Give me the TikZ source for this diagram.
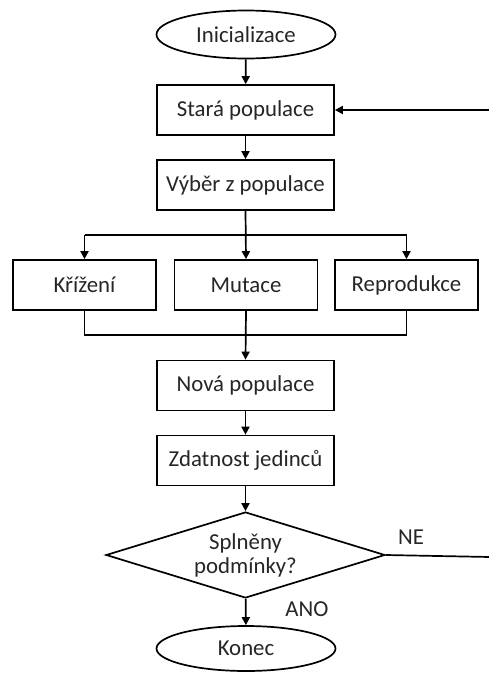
\documentclass[tikz,border=0pt]{standalone}
\usepackage{fontspec}
\setmainfont{Carlito}
\usetikzlibrary{shapes.geometric,arrows.meta}
\begin{document}
\begin{tikzpicture}[x=1pt,y=-1pt,
  every node/.style={font=\fontsize{22.8}{27}\selectfont, text=black!85},
  line/.style={line width=1.7pt, black},
  arr/.style={line, -{Triangle[length=8pt,width=8pt]}},
  procbox/.style={draw, line width=1.7pt, rectangle, minimum width=177pt, minimum height=50pt, inner sep=0pt},
  smallbox/.style={procbox, minimum width=143pt},
  term/.style={draw, line width=1.7pt, ellipse, minimum width=179pt, minimum height=48pt, inner sep=0pt},
  decision/.style={draw, line width=1.7pt, diamond, minimum width=279pt, minimum height=86pt, inner sep=0pt, aspect=3.2, align=center}]
\useasboundingbox (0,0) rectangle (488,673);
\fill[white] (0,0) rectangle (488,673);
\node[term] (init) at (246,34.5) {Inicializace};
\node[procbox] (stara) at (245.5,110) {Stará populace};
\node[procbox] (vyber) at (245.5,185) {Výběr z populace};
\node[smallbox] (kriz) at (84.5,285) {Křížení};
\node[smallbox] (mut) at (246,285) {Mutace};
\node[smallbox] (rep) at (406.5,285) {Reprodukce};
\node[procbox] (nova) at (245.5,385.5) {Nová populace};
\node[procbox] (zdat) at (245.5,460.5) {Zdatnost jedinců};
\node[decision] (cond) at (245.5,555) {Splněny\\[-3pt]podmínky?};
\node[term, minimum height=45pt] (konec) at (246,648.5) {Konec};
\coordinate (split) at (246,235);
\coordinate (join) at (246,335);
\coordinate (neend) at (490,557);
\coordinate (backstart) at (490,110);
\node (ne) at (411,537) {NE};
\node (ano) at (307,609) {ANO};

\draw[arr] (init) -- (stara);
\draw[arr] (stara) -- (vyber);
\draw[arr] (vyber.south) -- (mut.north);
\draw[line] (kriz.north |- split) -- (rep.north |- split);
\draw[arr] (kriz.north |- split) -- (kriz.north);
\draw[arr] (rep.north |- split) -- (rep.north);
\draw[line] (kriz.south) -- (kriz.south |- join) -- (rep.south |- join) -- (rep.south);
\draw[arr] (mut.south) -- (nova.north);
\draw[arr] (nova) -- (zdat);
\draw[arr] (zdat) -- (cond);
\draw[arr] (cond) -- (konec);
\draw[line] (cond.east) -- (neend);
\draw[arr] (backstart) -- (stara.east);
\end{tikzpicture}
\end{document}
